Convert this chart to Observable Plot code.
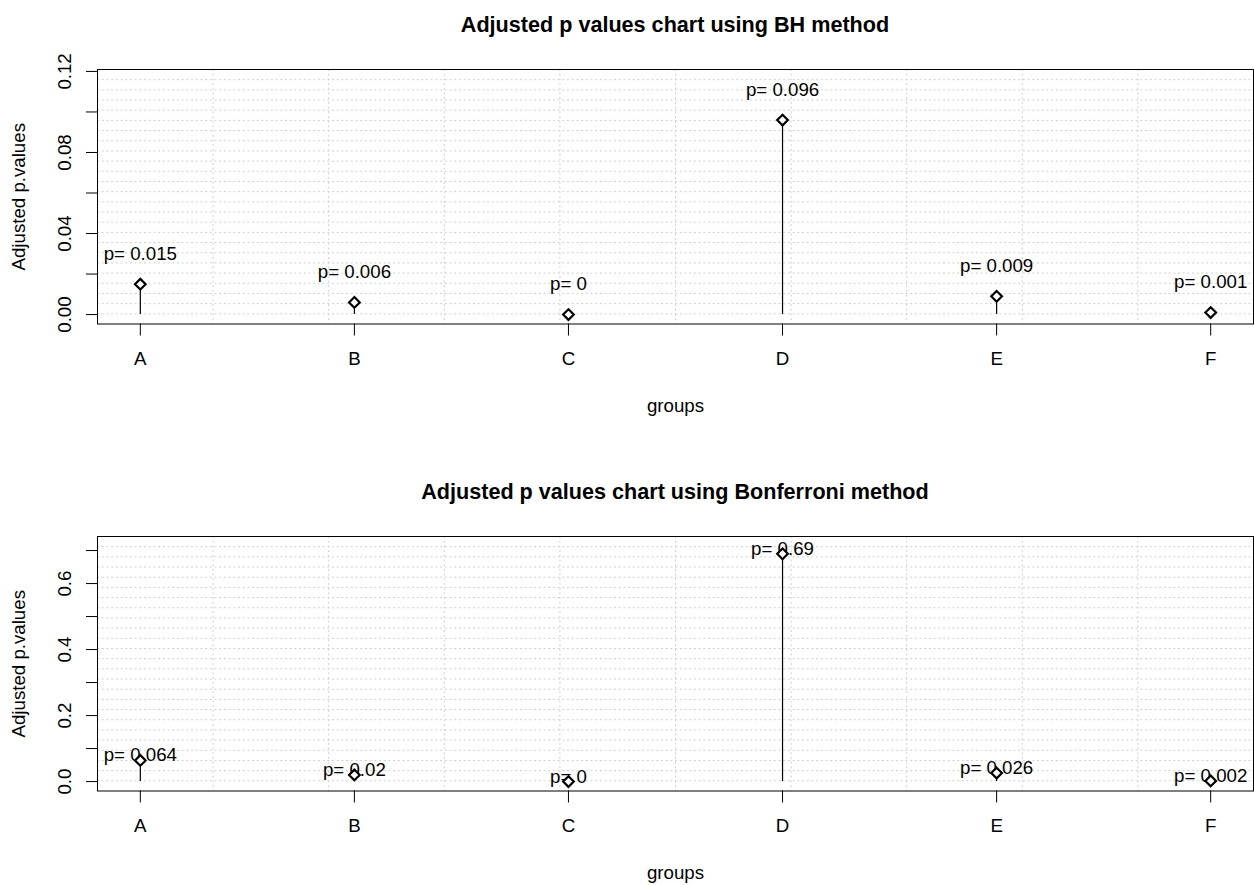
<!DOCTYPE html>
<html><head><meta charset="utf-8">
<script src="https://cdn.jsdelivr.net/npm/d3@7"></script>
<script src="https://cdn.jsdelivr.net/npm/@observablehq/plot@0.6"></script>
<style>
body{margin:0;background:#fff;font-family:"Liberation Sans",Arial,sans-serif;overflow:hidden}
.panel{width:1254px;height:467px;position:relative}
.title{box-sizing:border-box;height:46px;padding:3px 1px 0 97px;text-align:center;font-weight:bold;font-size:21.6px;line-height:43px;color:#000;white-space:nowrap}
svg{display:block}
</style></head><body><div id="chart"></div>
<script>
const groups = ["A", "B", "C", "D", "E", "F"];
const bhValues = [0.015, 0.006, 0, 0.096, 0.009, 0.001];
const bonferroniValues = [0.064, 0.02, 0, 0.69, 0.026, 0.002];
const bhYLim = [0, 0.1163];
const bonferroniYLim = [0, 0.714];
const bhYTicks = [0, 0.02, 0.04, 0.06, 0.08, 0.10, 0.12];
const bhYTickLabels = [0, 0.04, 0.08, 0.12];
const bonferroniYTicks = [0, 0.1, 0.2, 0.3, 0.4, 0.5, 0.6, 0.7];
const bonferroniYTickLabels = [0, 0.2, 0.4, 0.6];
const titles = ["Adjusted p values chart using BH method", "Adjusted p values chart using Bonferroni method"];
const xLabel = "groups";
const yLabel = "Adjusted p.values";

const FONT = "Liberation Sans, Arial, sans-serif";
const FS = 18.7;

function panel(title, values, yLim, ticks, labeledTicks, fmt) {
  const data = groups.map((g, i) => ({g, pos: i + 1, v: values[i]}));
  const ext = (yLim[1] - yLim[0]) * 0.04;
  const yDom = [yLim[0] - ext, yLim[1] + ext];
  const n = groups.length;
  const xExt = (n - 1) * 0.04;
  const xDom = [1 - xExt, n + xExt];
  const hGrid = d3.range(1, 25).map(k => yDom[0] + k * (yDom[1] - yDom[0]) / 25);
  const vGrid = d3.range(1, 10).map(k => xDom[0] + k * (xDom[1] - xDom[0]) / 10);
  const labelOffset = 0.015;
  const div = document.createElement("div");
  div.className = "panel";
  const t = document.createElement("div");
  t.className = "title";
  t.textContent = title;
  div.appendChild(t);
  const svg = Plot.plot({
    width: 1254, height: 421,
    marginTop: 23, marginBottom: 143.5, marginLeft: 97, marginRight: 1,
    x: {domain: xDom},
    y: {domain: yDom},
    style: {fontFamily: FONT, fontSize: FS + "px", color: "#000", background: "#fff"},
    marks: [
      Plot.ruleY(hGrid, {y: d => d, stroke: "#cfcfcf", strokeDasharray: "2,2.7"}),
      Plot.ruleX(vGrid, {x: d => d, stroke: "#cfcfcf", strokeDasharray: "2,2.7"}),
      Plot.ruleX(data, {x: "pos", y1: 0, y2: "v", stroke: "#000", strokeWidth: 1.2}),
      Plot.text(data, {x: "pos", y: d => d.v + labelOffset, text: d => "p= " + d.v, fontSize: FS, fill: "#000", textAnchor: "middle", lineAnchor: "middle"}),
      Plot.dot(data, {x: "pos", y: "v", symbol: "diamond2", r: 4.8, stroke: "#000", strokeWidth: 2.2, fill: "#fff"}),
      Plot.frame({stroke: "#000"}),
      Plot.axisY(ticks, {tickSize: 11, tickFormat: () => "", label: null, stroke: "#000"}),
      Plot.text(labeledTicks, {y: d => d, text: d => fmt(d), frameAnchor: "left", dx: -32, rotate: -90, textAnchor: "middle", lineAnchor: "middle", fontSize: FS, fill: "#000"}),
      Plot.axisX(data.map(d => d.pos), {tickSize: 12, tickFormat: () => "", label: null, stroke: "#000"}),
      Plot.text(data, {x: "pos", text: "g", frameAnchor: "bottom", dy: 35.5, textAnchor: "middle", lineAnchor: "middle", fontSize: FS, fill: "#000"}),
      Plot.text([xLabel], {text: d => d, frameAnchor: "bottom", dy: 82, textAnchor: "middle", lineAnchor: "middle", fontSize: FS, fill: "#000"}),
      Plot.text([yLabel], {text: d => d, frameAnchor: "left", dx: -78, rotate: -90, textAnchor: "middle", lineAnchor: "middle", fontSize: FS, fill: "#000"})
    ]
  });
  div.appendChild(svg);
  return div;
}

const root = document.getElementById("chart");
root.appendChild(panel(titles[0], bhValues, bhYLim, bhYTicks, bhYTickLabels, d3.format(".2f")));
root.appendChild(panel(titles[1], bonferroniValues, bonferroniYLim, bonferroniYTicks, bonferroniYTickLabels, d3.format(".1f")));
</script>
</body></html>
